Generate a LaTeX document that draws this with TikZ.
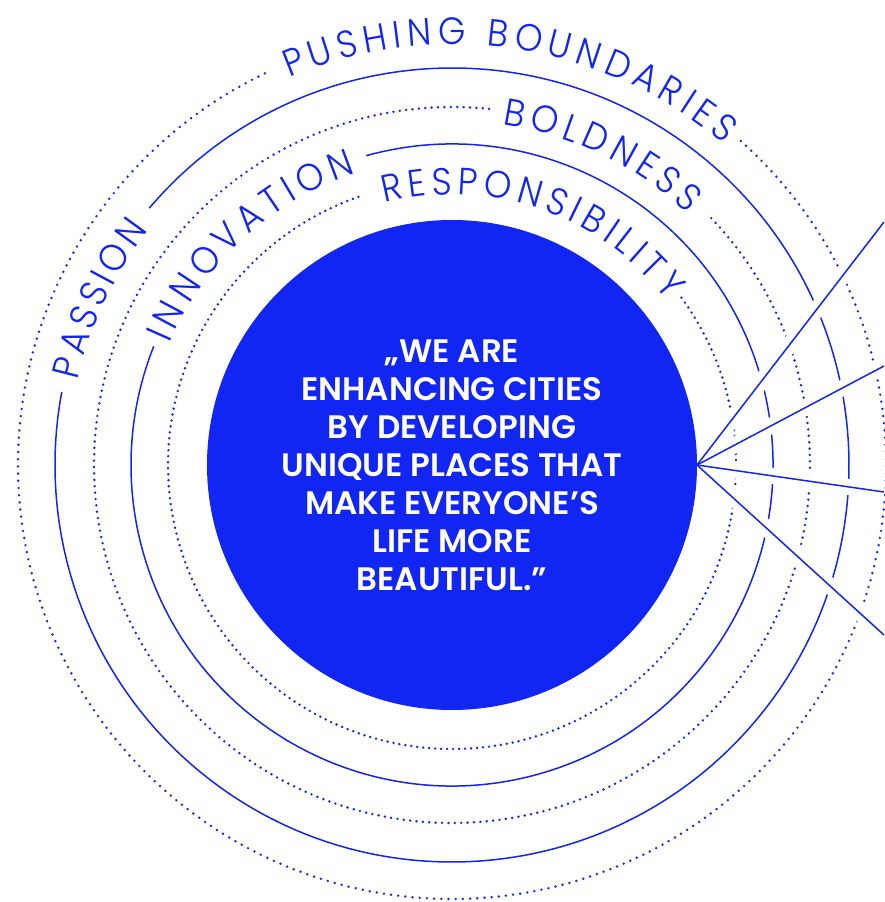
\documentclass[tikz,border=0pt]{standalone}
\usepackage{fontspec}
\usetikzlibrary{decorations.text}
\newfontfamily\labelfont{Poppins}[UprightFont=* Light, FakeStretch=0.92]
\newfontfamily\quotefont{Poppins}[UprightFont=* SemiBold]
\definecolor{brand}{RGB}{17,37,243}
\tikzset{
  solidring/.style={draw=brand, line width=1.5pt},
  dotring/.style={draw=brand, line width=2.7pt, line cap=round, dash pattern=on 0pt off #1},
  halo/.style={draw=white, line width=16pt},
  ray/.style={draw=brand, line width=1.5pt},
  ringlabel/.style={decorate, decoration={text along path, text color=brand,
      text align={fit to path}, text={|\labelfont\fontsize{38}{38}\selectfont|#1}}},
  quote/.style={text=white, align=center, anchor=base,
      font=\quotefont\fontsize{32.5}{38}\selectfont}
}
\begin{document}
\begin{tikzpicture}[x=1pt,y=1pt]
\useasboundingbox (-452,-437) rectangle (432,465);

% concentric rings, each open where its label sits
\draw[dotring=7.2pt] (48.3:434) arc[start angle=48.3, end angle=-245.3, radius=434];
\draw[solidring]     (139.7:397) arc[start angle=139.7, end angle=-190.6, radius=397];
\draw[dotring=6.4pt] (43.6:358) arc[start angle=43.6, end angle=-276, radius=358];
\draw[solidring]     (105.5:321) arc[start angle=105.5, end angle=-201.7, radius=321];
\draw[dotring=6pt]   (36.1:284) arc[start angle=36.1, end angle=-251.4, radius=284];

% rays leaving the disc on the right
\coordinate (hub) at (245,0);
\coordinate (e1) at (432,243);
\coordinate (e2) at (432,99);
\coordinate (e3) at (432,-27);
\coordinate (e4) at (432,-170);
\foreach \e in {e1,e2,e3,e4} \draw[halo] (hub) -- (\e);

% central disc
\fill[brand] (0,0) circle[radius=245];
\node[circle, minimum size=490pt, inner sep=0pt] (disc) at (0,0) {};

\foreach \e in {e1,e2,e3,e4} \draw[ray] (hub) -- (\e);

% ring labels
\path[ringlabel={PUSHING BOUNDARIES}] (112.8:420.5) arc[start angle=112.8, end angle=49.7, radius=420.5];
\path[ringlabel={PASSION}]            (167.2:383.5) arc[start angle=167.2, end angle=142.2, radius=383.5];
\path[ringlabel={BOLDNESS}]           (81.5:344.5) arc[start angle=81.5, end angle=46.9, radius=344.5];
\path[ringlabel={INNOVATION}]         (156.8:307.5) arc[start angle=156.8, end angle=108.2, radius=307.5];
\path[ringlabel={RESPONSIBILITY}]     (104.5:270.5) arc[start angle=104.5, end angle=37.5, radius=270.5];

% quotation, placed by the baseline of its last line
\node[quote] (q) at (0,-125) {„WE ARE\\ENHANCING CITIES\\BY DEVELOPING\\UNIQUE PLACES THAT\\MAKE EVERYONE’S\\LIFE MORE\\BEAUTIFUL.”};
\end{tikzpicture}
\end{document}
